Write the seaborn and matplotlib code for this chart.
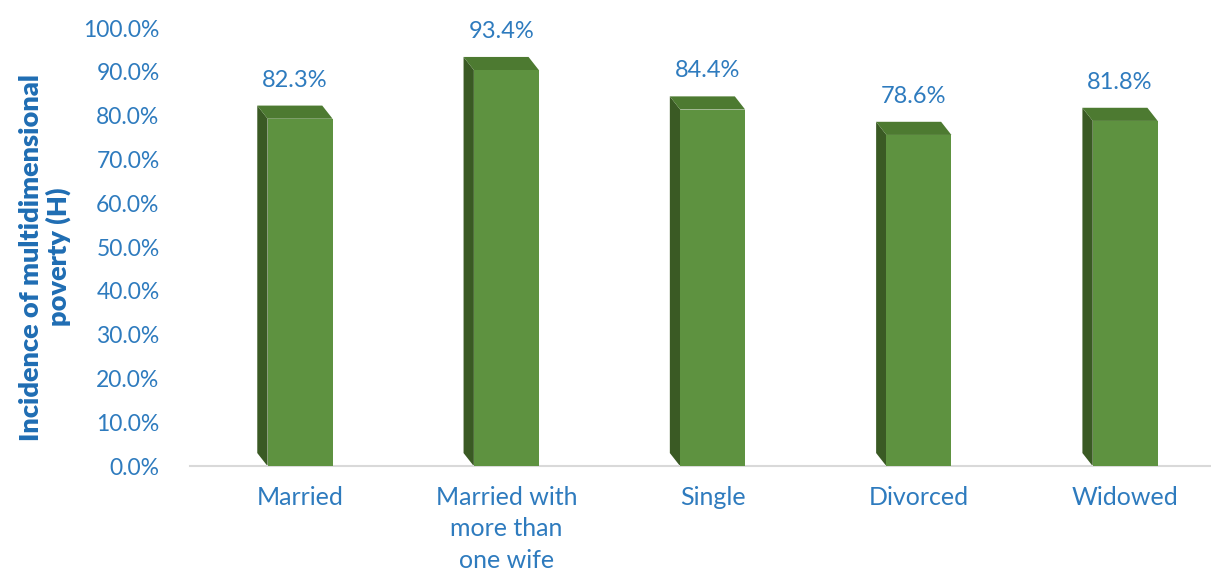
import matplotlib.pyplot as plt
import matplotlib.patches as mpatches
import pandas as pd
import seaborn as sns

categories = ["Married", "Married with\nmore than\none wife", "Single", "Divorced", "Widowed"]
values = [82.3, 93.4, 84.4, 78.6, 81.8]
yticks = [0, 10, 20, 30, 40, 50, 60, 70, 80, 90, 100]

BLUE = "#2E7BBE"
FRONT = "#5E9240"
SIDE = "#3A5A24"
TOP = "#4D7A31"

# fake 3D depth (data units)
DX = -0.05
DY = 3.0

sns.set_theme(style="white")
plt.rcParams["font.family"] = ["Lato", "DejaVu Sans"]

df = pd.DataFrame({"cat": categories, "front": [v - DY for v in values]})

fig = plt.figure(figsize=(12.11, 5.72), dpi=100)
ax = fig.add_axes([0.157, 0.185, 0.842, 0.766])

sns.barplot(data=df, x="cat", y="front", color=FRONT, width=0.315,
            saturation=1, linewidth=0, edgecolor="none", ax=ax, zorder=3)

for p, v in zip(ax.patches, values):
    x0 = p.get_x()
    x1 = x0 + p.get_width()
    h = p.get_height()
    side = mpatches.Polygon([(x0, 0), (x0 + DX, DY), (x0 + DX, h + DY), (x0, h)],
                            closed=True, facecolor=SIDE, edgecolor="none", zorder=2)
    top = mpatches.Polygon([(x0, h), (x0 + DX, h + DY), (x1 + DX, h + DY), (x1, h)],
                           closed=True, facecolor=TOP, edgecolor="none", zorder=2)
    ax.add_patch(side)
    ax.add_patch(top)
    ax.text((x0 + x1) / 2 + DX / 2, v + 5.8, f"{v:.1f}%", ha="center", va="center",
            fontsize=17, color=BLUE)

ax.set_xlim(-0.533, 4.41)
ax.set_ylim(0, 100)
ax.set_yticks(yticks)
ax.set_yticklabels([f"{t:.1f}%" for t in yticks])
ax.tick_params(axis="y", length=0, pad=22, labelsize=16.5, labelcolor=BLUE)
ax.tick_params(axis="x", length=0, pad=14, labelsize=18, labelcolor=BLUE)
for lbl in ax.get_xticklabels():
    lbl.set_linespacing(1.45)
    lbl.set_va("top")

ax.set_xlabel("")
ax.set_ylabel("Incidence of multidimensional\npoverty (H)", fontsize=19.5,
              fontweight="heavy", color="#1F6DB3", linespacing=1.1)
ax.yaxis.set_label_coords(-0.117, 0.477)

for s in ["top", "right", "left"]:
    ax.spines[s].set_visible(False)
ax.spines["bottom"].set_color("#D9D9D9")
ax.spines["bottom"].set_linewidth(1.5)

fig.savefig("out.png", dpi=100)
